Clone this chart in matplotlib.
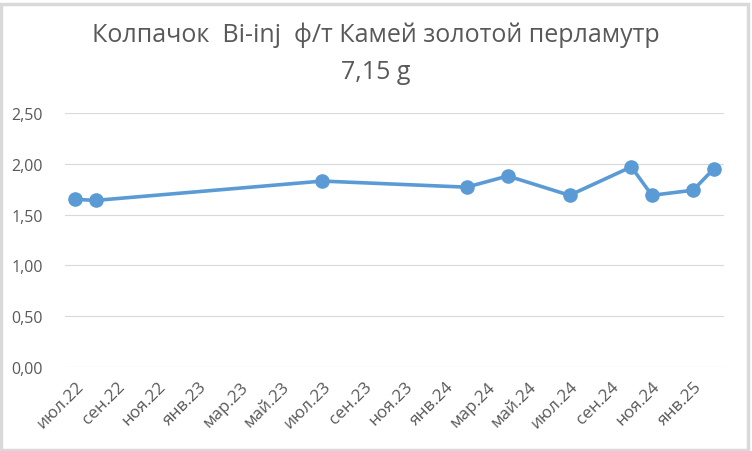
import matplotlib
matplotlib.use("Agg")
import matplotlib.pyplot as plt
from matplotlib.patches import Rectangle
import pandas as pd

# Daten (Monat, Preis)
dates = ["2022-07", "2022-08", "2023-07", "2024-02", "2024-04",
         "2024-07", "2024-10", "2024-11", "2025-01", "2025-02"]
values = [1.65, 1.64, 1.83, 1.77, 1.88, 1.69, 1.97, 1.69, 1.74, 1.95]

tick_labels = ["июл.22", "сен.22", "ноя.22", "янв.23", "мар.23", "май.23",
               "июл.23", "сен.23", "ноя.23", "янв.24", "мар.24", "май.24",
               "июл.24", "сен.24", "ноя.24", "янв.25"]
y_ticks = [0.0, 0.5, 1.0, 1.5, 2.0, 2.5]

title = "Колпачок  Bi-inj  ф/т Камей золотой перламутр\n7,15 g"

plt.rcParams["font.family"] = ["Open Sans", "DejaVu Sans"]

# Monatsindex ab Juli 2022
d = pd.to_datetime(dates)
start = pd.Timestamp("2022-07-01")
x = (d.year - start.year) * 12 + (d.month - start.month)
n_months = 32

text_col = "#595959"
grid_col = "#D9D9D9"
line_col = "#5B9BD5"

fig = plt.figure(figsize=(7.52, 4.52), dpi=100)
W, H = 752, 452
ax = fig.add_axes([65 / W, (H - 368) / H, (724 - 65) / W, (368 - 114) / H])

ax.plot(x, values, color=line_col, linewidth=2.6, marker="o",
        markersize=9.5, markerfacecolor=line_col, markeredgecolor=line_col,
        solid_joinstyle="round", zorder=3)

ax.set_xlim(-0.5, n_months - 0.5)
ax.set_ylim(0, 2.5)

ax.set_yticks(y_ticks)
ax.set_yticklabels([f"{v:.2f}".replace(".", ",") for v in y_ticks])
ax.set_xticks(range(0, 2 * len(tick_labels), 2))
ax.set_xticklabels(tick_labels, rotation=45, ha="right", rotation_mode="anchor")

ax.tick_params(axis="both", length=0, colors=text_col)
ax.tick_params(axis="y", pad=16, labelsize=11.5)
ax.tick_params(axis="x", pad=8, labelsize=12.3)

ax.grid(axis="y", color=grid_col, linewidth=0.8)
ax.set_axisbelow(True)
for s in ax.spines.values():
    s.set_visible(False)

fig.text(0.5, 1 - 23 / H, title, ha="center", va="top", fontsize=18,
         color=text_col, linespacing=1.6)

# Rahmen wie im Excel-Diagramm
fig.patches.append(Rectangle((1.5 / W, 1.5 / H), (W - 6) / W, (H - 6) / H,
                             transform=fig.transFigure, fill=False,
                             edgecolor=grid_col, linewidth=2.5))

fig.savefig("out.png", dpi=100)
